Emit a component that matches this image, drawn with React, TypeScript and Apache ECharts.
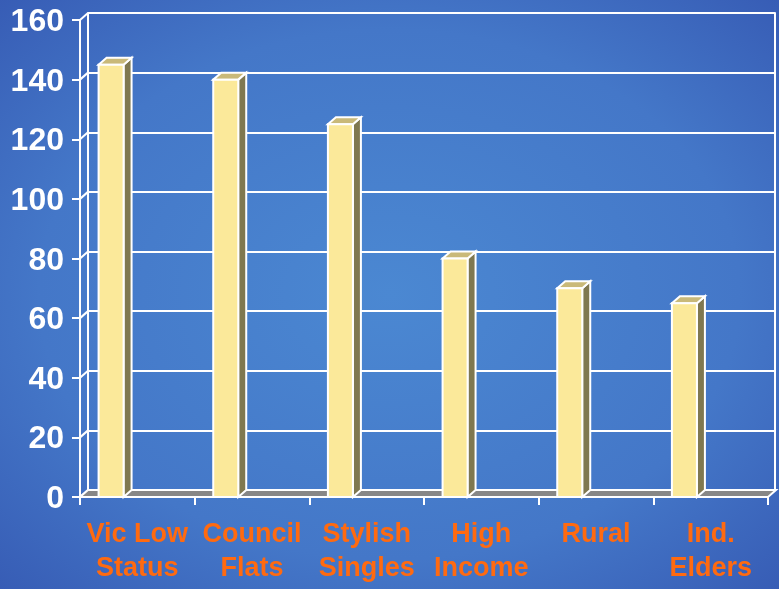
import React, { useEffect, useRef } from "react";
import * as echarts from "echarts";

const categories = ["Vic Low\nStatus", "Council\nFlats", "Stylish\nSingles", "High\nIncome", "Rural", "Ind.\nElders"];
const values = [145, 140, 125, 80, 70, 65];
const yTicks = [0, 20, 40, 60, 80, 100, 120, 140, 160];

const DX = 8;
const DY = 7;
const FONT = "'Liberation Sans', Arial, sans-serif";

export default function App() {
  const ref = useRef<HTMLDivElement>(null);
  useEffect(() => {
    if (!ref.current) return;
    const chart = echarts.init(ref.current, undefined, { renderer: "svg" });
    const last = categories.length - 1;
    const option: any = {
      animation: false,
      backgroundColor: new echarts.graphic.RadialGradient(0.5, 0.5, 0.75, [
        { offset: 0, color: "#4b88d2" },
        { offset: 0.6, color: "#4477c8" },
        { offset: 1, color: "#3558b2" },
      ]),
      grid: [
        { left: 80, right: 11, top: 20, bottom: 92 },
        { left: 88, right: 4, top: 13, bottom: 99 },
      ],
      xAxis: [
        {
          type: "category",
          gridIndex: 0,
          data: categories,
          boundaryGap: true,
          axisLine: { show: true, lineStyle: { color: "#ffffff", width: 2 } },
          axisTick: { show: true, length: 8, interval: 0, lineStyle: { color: "#ffffff", width: 2 } },
          axisLabel: {
            interval: 0,
            color: "#ff6a10",
            fontFamily: FONT,
            fontWeight: "bold",
            fontSize: 27,
            lineHeight: 34,
            margin: 19,
          },
          splitLine: { show: false },
        },
        {
          type: "category",
          gridIndex: 1,
          data: categories,
          show: false,
        },
      ],
      yAxis: [
        {
          type: "value",
          gridIndex: 0,
          min: 0,
          max: 160,
          interval: 20,
          axisLine: { show: true, lineStyle: { color: "#ffffff", width: 2 } },
          axisTick: { show: true, length: 8, lineStyle: { color: "#ffffff", width: 2 } },
          axisLabel: {
            color: "#ffffff",
            fontFamily: FONT,
            fontWeight: "bold",
            fontSize: 32,
            margin: 16,
          },
          splitLine: { show: false },
        },
        {
          type: "value",
          gridIndex: 1,
          min: 0,
          max: 160,
          interval: 20,
          axisLine: { show: true, lineStyle: { color: "#ffffff", width: 2 } },
          axisTick: { show: false },
          axisLabel: { show: false },
          splitLine: { show: true, lineStyle: { color: "#ffffff", width: 2 } },
        },
        {
          type: "value",
          gridIndex: 1,
          position: "right",
          min: 0,
          max: 160,
          interval: 20,
          axisLine: { show: true, lineStyle: { color: "#ffffff", width: 2 } },
          axisTick: { show: false },
          axisLabel: { show: false },
          splitLine: { show: false },
        },
      ],
      series: [
        {
          type: "custom",
          name: "diagonals",
          xAxisIndex: 0,
          yAxisIndex: 0,
          z: 1,
          silent: true,
          data: yTicks.map((v) => [0, v]),
          encode: { x: 0, y: 1 },
          renderItem: (params: any, api: any) => {
            const p = api.coord([0, api.value(1)]);
            const bw = api.size([1, 0])[0];
            const left = p[0] - bw / 2;
            return {
              type: "line",
              shape: { x1: left, y1: p[1], x2: left + DX, y2: p[1] - DY },
              style: { stroke: "#ffffff", lineWidth: 2 },
            };
          },
        },
        {
          type: "custom",
          name: "floor",
          xAxisIndex: 0,
          yAxisIndex: 0,
          z: 2,
          silent: true,
          data: [[0, 0]],
          encode: { x: 0, y: 1 },
          renderItem: (params: any, api: any) => {
            const p0 = api.coord([0, 0]);
            const p1 = api.coord([last, 0]);
            const bw = api.size([1, 0])[0];
            const l = p0[0] - bw / 2;
            const r = p1[0] + bw / 2;
            const y = p0[1];
            return {
              type: "polygon",
              shape: { points: [[l, y], [r, y], [r + DX, y - DY], [l + DX, y - DY]] },
              style: { fill: "#878787", stroke: "#ffffff", lineWidth: 2 },
            };
          },
        },
        {
          type: "custom",
          name: "bars",
          xAxisIndex: 0,
          yAxisIndex: 0,
          z: 3,
          data: values.map((v, i) => [i, v]),
          encode: { x: 0, y: 1 },
          renderItem: (params: any, api: any) => {
            const idx = api.value(0);
            const v = api.value(1);
            const top = api.coord([idx, v]);
            const base = api.coord([idx, 0]);
            const bw = api.size([1, 0])[0];
            const x0 = top[0] - bw / 2 + bw * 0.162;
            const w = bw * 0.218;
            const ty = top[1];
            const by = base[1];
            return {
              type: "group",
              children: [
                {
                  type: "polygon",
                  shape: { points: [[x0 + w, ty], [x0 + w + DX, ty - DY], [x0 + w + DX, by - DY], [x0 + w, by]] },
                  style: { fill: "#7f7850", stroke: "#ffffff", lineWidth: 2 },
                },
                {
                  type: "polygon",
                  shape: { points: [[x0, ty], [x0 + DX, ty - DY], [x0 + w + DX, ty - DY], [x0 + w, ty]] },
                  style: { fill: "#c9b979", stroke: "#ffffff", lineWidth: 2 },
                },
                {
                  type: "rect",
                  shape: { x: x0, y: ty, width: w, height: by - ty },
                  style: { fill: "#fbe99a", stroke: "#ffffff", lineWidth: 2 },
                },
              ],
            };
          },
        },
      ],
    };
    chart.setOption(option);
    return () => chart.dispose();
  }, []);
  return (
    <div
      ref={ref}
      style={{ position: "fixed", left: 0, top: 0, width: 779, height: 589 }}
    />
  );
}
